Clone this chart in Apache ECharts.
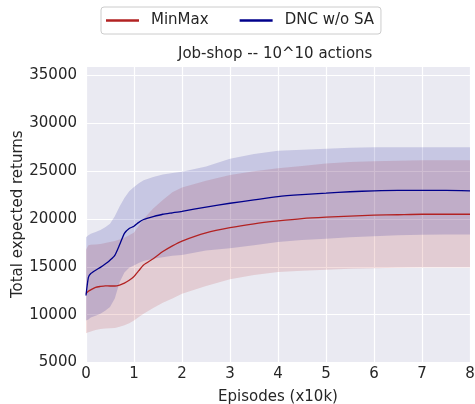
<!DOCTYPE html>
<html>
<head>
<meta charset="utf-8">
<script src="https://cdn.jsdelivr.net/npm/echarts@6/dist/echarts.min.js"></script>
<style>html,body{margin:0;padding:0;background:#fff}#c{width:475px;height:404px}</style>
</head>
<body>
<div id="c"></div>
<script>
const xs       = [0, 0.05, 0.1, 0.2, 0.3, 0.4, 0.5, 0.6, 0.7, 0.8, 0.9, 1.0, 1.1, 1.2, 1.4, 1.6, 1.8, 2.0, 2.5, 3.0, 3.5, 4.0, 4.5, 5.0, 5.5, 6.0, 6.5, 7.0, 7.5, 8.0];
const blueMean = [12000, 13900, 14300, 14650, 14950, 15300, 15700, 16200, 17300, 18500, 19000, 19250, 19650, 19950, 20250, 20500, 20650, 20800, 21250, 21650, 22000, 22350, 22550, 22700, 22850, 22950, 23000, 23000, 23000, 22950];
const redMean  = [12200, 12450, 12600, 12850, 12950, 13020, 13000, 13000, 13100, 13300, 13600, 14000, 14600, 15200, 15850, 16600, 17200, 17700, 18550, 19100, 19500, 19800, 20050, 20200, 20300, 20400, 20450, 20500, 20500, 20500];
const blueUp   = [18100, 18300, 18450, 18650, 18850, 19150, 19500, 20300, 21300, 22200, 22900, 23350, 23750, 24050, 24400, 24650, 24800, 24950, 25500, 26300, 26800, 27150, 27250, 27350, 27450, 27500, 27500, 27500, 27500, 27500];
const blueLo   = [9400, 9500, 9700, 9900, 10100, 10400, 10800, 11700, 13400, 14400, 14900, 15150, 15400, 15600, 15850, 16000, 16150, 16250, 16700, 16950, 17250, 17600, 17800, 17950, 18100, 18200, 18300, 18350, 18380, 18380];
const redUp    = [16800, 17250, 17300, 17350, 17400, 17500, 17600, 17700, 17850, 18050, 18300, 18600, 19300, 20000, 21100, 22000, 22800, 23300, 24000, 24600, 25000, 25300, 25550, 25800, 25950, 26050, 26100, 26150, 26150, 26150];
const redLo    = [8050, 8150, 8250, 8400, 8500, 8550, 8570, 8600, 8750, 8900, 9100, 9400, 9750, 10100, 10700, 11250, 11700, 12200, 13000, 13700, 14150, 14450, 14600, 14700, 14800, 14850, 14900, 14940, 14940, 14940];
const seriesNames = ['MinMax', 'DNC w/o SA'];
const titleText = 'Job-shop -- 10^10 actions';

const RED = '#B22222', BLUE = '#00008B';
const txt = '#262626';
const font = 'DejaVu Sans';

function pairs(ys){ return xs.map((x,i)=>[x, ys[i]]); }
function band(up, lo, fill){
  return {
    type: 'custom', silent: true, z: 1,
    data: [0],
    clip: true,
    renderItem: function(params, api){
      if (params.dataIndex !== 0) return;
      const pts = [];
      for (let i = 0; i < xs.length; i++) pts.push(api.coord([xs[i], up[i]]));
      for (let i = xs.length - 1; i >= 0; i--) pts.push(api.coord([xs[i], lo[i]]));
      return { type: 'polygon', shape: { points: pts, smooth: 0 }, style: { fill: fill } };
    }
  };
}

const chart = echarts.init(document.getElementById('c'), null, {renderer: 'canvas'});
chart.setOption({
  animation: false,
  backgroundColor: '#ffffff',
  textStyle: { fontFamily: font },
  title: {
    text: titleText, left: 178, top: 47, padding: 0,
    textStyle: { fontFamily: font, fontSize: 15, fontWeight: 'normal', color: txt }
  },
  legend: {
    data: seriesNames,
    left: 101, top: 7,
    padding: [6, 7, 6, 5],
    itemGap: 31, itemWidth: 33, itemHeight: 2.5,
    icon: 'rect',
    borderColor: '#cccccc', borderWidth: 1, borderRadius: 3,
    textStyle: { fontFamily: font, fontSize: 15, color: txt, padding: [0, 0, 0, 7] }
  },
  grid: { left: 86, right: 5, top: 66, bottom: 41.5, show: true, backgroundColor: '#EAEAF2', borderWidth: 0,
          containLabel: false, outerBoundsMode: 'none' },
  xAxis: {
    type: 'value', min: 0, max: 8, interval: 1,
    name: 'Episodes (x10k)', nameLocation: 'middle', nameGap: 27, nameMoveOverlap: false,
    nameTextStyle: { fontFamily: font, fontSize: 15, color: txt },
    axisLine: { show: false }, axisTick: { show: false },
    axisLabel: { fontFamily: font, fontSize: 15, color: txt, margin: 4 },
    splitLine: { show: true, lineStyle: { color: '#ffffff', width: 1.2 } }
  },
  yAxis: {
    type: 'value', min: 5000, max: 36000, interval: 5000,
    name: 'Total expected returns', nameLocation: 'middle', nameGap: 60, nameMoveOverlap: false,
    nameTextStyle: { fontFamily: font, fontSize: 15, color: txt },
    axisLine: { show: false }, axisTick: { show: false },
    axisLabel: { fontFamily: font, fontSize: 15, color: txt, margin: 9, showMaxLabel: false,
                 formatter: function(v){ return String(v); } },
    splitLine: { show: true, lineStyle: { color: '#ffffff', width: 1.2 } }
  },
  series: [
    band(redUp, redLo, 'rgba(178,34,34,0.15)'),
    band(blueUp, blueLo, 'rgba(0,0,139,0.15)'),
    { name: seriesNames[0], type: 'line', data: pairs(redMean), symbol: 'none', smooth: 0.2, z: 3,
      color: RED, lineStyle: { color: RED, width: 1.3 } },
    { name: seriesNames[1], type: 'line', data: pairs(blueMean), symbol: 'none', smooth: 0.2, z: 4,
      color: BLUE, lineStyle: { color: BLUE, width: 1.3 } }
  ]
});
</script>
</body>
</html>
